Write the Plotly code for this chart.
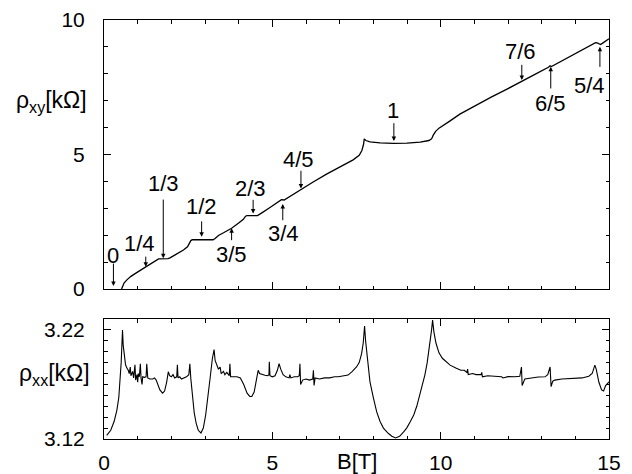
import plotly.graph_objects as go
from plotly.subplots import make_subplots

# ---------------- data ----------------
# Hall resistivity rho_xy [kOhm] vs B [T]
B_xy = [0.52, 0.55, 0.60, 0.68, 0.80, 0.97, 1.24, 1.50, 1.58, 1.62, 1.90, 1.96,
        2.10, 2.36, 2.48, 2.54, 2.58, 2.62, 3.24, 3.30, 3.40, 3.55, 3.79, 4.00,
        4.14, 4.20, 4.24, 4.56, 4.62, 4.70, 4.93, 5.15, 5.22, 5.27, 5.35, 5.40,
        5.60, 5.85, 6.20, 6.61, 7.00, 7.40, 7.58, 7.66, 7.71, 7.73, 7.78, 7.90,
        8.20, 8.60, 9.00, 9.39, 9.65, 9.73, 9.78, 9.85, 9.95, 10.08, 10.28, 10.57,
        11.00, 11.50, 12.00, 12.40, 12.80, 13.20, 13.25, 13.29, 13.70, 14.20,
        14.55, 14.60, 14.65, 14.75, 14.80, 15.00]
rho_xy = [0.00, 0.12, 0.23, 0.34, 0.47, 0.61, 0.81, 1.01, 1.08, 1.12, 1.13, 1.16,
          1.26, 1.45, 1.57, 1.70, 1.80, 1.83, 1.83, 1.88, 1.99, 2.09, 2.26, 2.45,
          2.59, 2.70, 2.73, 2.73, 2.77, 2.84, 3.03, 3.22, 3.29, 3.32, 3.31, 3.35,
          3.52, 3.72, 3.97, 4.27, 4.53, 4.80, 4.97, 5.15, 5.38, 5.58, 5.52, 5.47,
          5.43, 5.41, 5.42, 5.46, 5.52, 5.58, 5.72, 5.86, 5.98, 6.08, 6.25, 6.50,
          6.80, 7.13, 7.45, 7.73, 7.98, 8.24, 8.30, 8.27, 8.55, 8.87,
          9.10, 9.16, 9.15, 9.09, 9.13, 9.30]

# Longitudinal resistivity rho_xx [kOhm] vs B [T]
B_xx = [0.08, 0.20, 0.30, 0.38, 0.44, 0.48, 0.51, 0.53, 0.55, 0.57, 0.60, 0.64,
        0.68, 0.72, 0.75, 0.78, 0.80, 0.85, 0.88, 0.92, 0.94, 0.98, 1.00, 1.02,
        1.05, 1.08, 1.10, 1.13, 1.15, 1.20, 1.25, 1.27, 1.30, 1.36, 1.45, 1.50,
        1.55, 1.60, 1.66, 1.74, 1.80, 1.86, 1.91, 1.95, 2.00, 2.05, 2.10, 2.16,
        2.18, 2.20, 2.25, 2.30, 2.38, 2.45, 2.52, 2.55, 2.58, 2.62, 2.68, 2.74,
        2.80, 2.88, 2.95, 3.02, 3.10, 3.16, 3.22, 3.27, 3.30, 3.35, 3.40, 3.45,
        3.48, 3.55, 3.59, 3.65, 3.72, 3.74, 3.76, 3.85, 3.95, 4.05, 4.15, 4.25,
        4.33, 4.39, 4.46, 4.52, 4.58, 4.62, 4.70, 4.78, 4.86, 4.90, 4.91, 4.93,
        5.00, 5.08, 5.15, 5.20, 5.25, 5.32, 5.40, 5.50, 5.52, 5.55, 5.65, 5.75,
        5.80, 5.82, 5.84, 5.90, 6.00, 6.10, 6.20, 6.22, 6.24, 6.27, 6.40, 6.55,
        6.70, 6.85, 6.96, 7.10, 7.25, 7.36, 7.50, 7.58, 7.65, 7.70, 7.74, 7.77,
        7.80, 7.85, 7.90, 8.00, 8.10, 8.20, 8.30, 8.45, 8.55, 8.66, 8.78, 8.90,
        8.99, 9.10, 9.20, 9.29, 9.40, 9.53, 9.60, 9.68, 9.73, 9.76, 9.80, 9.86,
        9.95, 10.05, 10.15, 10.28, 10.45, 10.60, 10.70, 10.78, 10.80, 10.82, 10.95,
        11.05, 11.20, 11.22, 11.24, 11.40, 11.60, 11.81, 11.85, 12.00, 12.20,
        12.35, 12.40, 12.42, 12.50, 12.70, 12.90, 13.10, 13.18, 13.25, 13.28,
        13.33, 13.39, 13.60, 13.89, 14.00, 14.20, 14.40, 14.50, 14.58, 14.62,
        14.70, 14.78, 14.84, 14.90, 15.00]
rho_xx = [3.1234, 3.1280, 3.1360, 3.1460, 3.1580, 3.1720, 3.1900, 3.2050, 3.2200,
          3.2060, 3.1950, 3.1880, 3.1850, 3.1830, 3.1800, 3.1860, 3.1780, 3.1820,
          3.1760, 3.1880, 3.1740, 3.1790, 3.1720, 3.1800, 3.1770, 3.1890, 3.1760,
          3.1700, 3.1770, 3.1765, 3.1770, 3.1890, 3.1760, 3.1750, 3.1750, 3.1760,
          3.1740, 3.1700, 3.1650, 3.1620, 3.1640, 3.1720, 3.1816, 3.1780, 3.1770,
          3.1790, 3.1760, 3.1770, 3.1880, 3.1760, 3.1770, 3.1750, 3.1760, 3.1770,
          3.1790, 3.1890, 3.1750, 3.1600, 3.1440, 3.1340, 3.1280, 3.1255, 3.1300,
          3.1420, 3.1600, 3.1780, 3.1940, 3.2020, 3.1920, 3.1880, 3.1840, 3.1860,
          3.1800, 3.1820, 3.1790, 3.1810, 3.1780, 3.1890, 3.1770, 3.1770, 3.1770,
          3.1760, 3.1700, 3.1620, 3.1590, 3.1590, 3.1630, 3.1730, 3.1830, 3.1800,
          3.1790, 3.1785, 3.1780, 3.1790, 3.1908, 3.1780, 3.1770, 3.1780, 3.1830,
          3.1890, 3.1840, 3.1790, 3.1770, 3.1760, 3.1790, 3.1760, 3.1770, 3.1770,
          3.1780, 3.1890, 3.1700, 3.1740, 3.1750, 3.1740, 3.1750, 3.1830, 3.1690,
          3.1760, 3.1750, 3.1760, 3.1760, 3.1770, 3.1770, 3.1780, 3.1786, 3.1816,
          3.1860, 3.1900, 3.1980, 3.2080, 3.2236, 3.2100, 3.2000, 3.1850, 3.1724,
          3.1580, 3.1448, 3.1360, 3.1300, 3.1250, 3.1225, 3.1210, 3.1225, 3.1265,
          3.1300, 3.1360, 3.1420, 3.1500, 3.1620, 3.1786, 3.1900, 3.2060, 3.2200,
          3.2290, 3.2180, 3.2080, 3.1990, 3.1940, 3.1910, 3.1877, 3.1850, 3.1830,
          3.1830, 3.1810, 3.1840, 3.1790, 3.1800, 3.1790, 3.1790, 3.1810, 3.1770,
          3.1780, 3.1775, 3.1770, 3.1760, 3.1772, 3.1770, 3.1775, 3.1860, 3.1690,
          3.1750, 3.1760, 3.1768, 3.1770, 3.1790, 3.1860, 3.1680, 3.1730, 3.1740,
          3.1750, 3.1752, 3.1752, 3.1760, 3.1775, 3.1800, 3.1877, 3.1840, 3.1720,
          3.1650, 3.1640, 3.1690, 3.1724]

# filling-factor labels: text, label position (B, rho), arrow x, arrow tail rho, arrow tip rho
labels = ["0", "1/4", "1/3", "1/2", "3/5", "2/3", "3/4", "4/5", "1", "7/6", "6/5", "5/4"]
label_B = [0.28, 1.05, 1.76, 2.90, 3.79, 4.34, 5.33, 5.77, 8.57, 12.38, 13.27, 14.41]
label_rho = [1.26, 1.70, 3.93, 3.06, 1.30, 3.72, 2.07, 4.83, 6.62, 8.82, 6.90, 7.55]
arrow_B = [0.28, 1.24, 1.76, 2.90, 3.79, 4.43, 5.31, 5.85, 8.61, 12.41, 13.27, 14.73]
arrow_tail = [1.00, 1.26, 3.38, 2.57, 1.76, 3.37, 2.50, 4.45, 6.22, 8.39, 7.40, 8.20]
arrow_tip = [0.11, 0.83, 1.14, 1.94, 2.26, 2.81, 3.16, 3.74, 5.50, 7.77, 8.26, 9.01]

# ---------------- figure ----------------
FONT = "Liberation Sans, Arial, Helvetica, sans-serif"
plot_h = 419.0
fig = make_subplots(rows=2, cols=1, shared_xaxes=False, vertical_spacing=0.0)

fig.add_trace(go.Scatter(x=B_xy, y=rho_xy, mode="lines",
                         line=dict(color="black", width=1.3), showlegend=False), row=1, col=1)
fig.add_trace(go.Scatter(x=B_xx, y=rho_xx, mode="lines",
                         line=dict(color="black", width=1.1), showlegend=False), row=2, col=1)

axis_common = dict(showline=True, linecolor="black", linewidth=1, mirror="ticks",
                   ticks="inside", ticklen=7, tickwidth=1, tickcolor="black",
                   showgrid=False, zeroline=False, automargin=False,
                   tickfont=dict(family=FONT, size=21, color="black"))

fig.update_layout(
    width=632, height=474,
    margin=dict(l=104, r=23, t=20, b=35),
    paper_bgcolor="white", plot_bgcolor="white",
    font=dict(family=FONT, size=21, color="black"),
    xaxis=dict(domain=[0, 1], range=[0, 15], anchor="y", showticklabels=False,
               tickvals=[0, 5, 10, 15],
               minor=dict(ticks="inside", ticklen=3.5, dtick=1, tick0=0, tickcolor="black"),
               **axis_common),
    yaxis=dict(domain=[(439 - 289) / plot_h, 1], range=[0, 10], anchor="x",
               tickvals=[0, 5, 10], ticklabelstandoff=14,
               minor=dict(ticks="inside", ticklen=3.5, dtick=1, tick0=0, tickcolor="black"),
               **axis_common),
    xaxis2=dict(domain=[0, 1], range=[0, 15], anchor="y2",
                tickvals=[0, 5, 10, 15], ticktext=["0", "5", "10", "15"],
                ticklabelstandoff=5,
                minor=dict(ticks="inside", ticklen=3.5, dtick=1, tick0=0, tickcolor="black"),
                **axis_common),
    yaxis2=dict(domain=[0, 120 / plot_h], range=[3.12, 3.23], anchor="x2",
                tickvals=[3.12, 3.22], ticktext=["3.12", "3.22"], ticklabelstandoff=14,
                minor=dict(ticks="inside", ticklen=3.5, dtick=0.01, tick0=3.12, tickcolor="black"),
                **axis_common),
)

ann = []
for t, lb, lr, ab, at, ap in zip(labels, label_B, label_rho, arrow_B, arrow_tail, arrow_tip):
    ann.append(dict(x=lb, y=lr, xref="x", yref="y", text=t, showarrow=False,
                    xanchor="center", yanchor="middle",
                    font=dict(family=FONT, size=22, color="black")))
    ann.append(dict(x=ab, y=ap, xref="x", yref="y", ax=ab, ay=at, axref="x", ayref="y",
                    text="", showarrow=True, arrowhead=2, arrowsize=0.9, arrowwidth=1,
                    arrowcolor="black"))

# axis titles
ann.append(dict(x=-0.103, y=(439 - 102) / plot_h, xref="paper", yref="paper",
                text="ρ<sub>xy</sub>[kΩ]", showarrow=False, xanchor="center", yanchor="middle",
                font=dict(family=FONT, size=23, color="black")))
ann.append(dict(x=-0.099, y=(439 - 374) / plot_h, xref="paper", yref="paper",
                text="ρ<sub>xx</sub>[kΩ]", showarrow=False, xanchor="center", yanchor="middle",
                font=dict(family=FONT, size=23, color="black")))
ann.append(dict(x=7.5, y=(439 - 462) / plot_h, xref="x2", yref="paper",
                text="B[T]", showarrow=False, xanchor="center", yanchor="middle",
                font=dict(family=FONT, size=22, color="black")))

fig.update_layout(annotations=ann)
fig.write_html("out.html")
